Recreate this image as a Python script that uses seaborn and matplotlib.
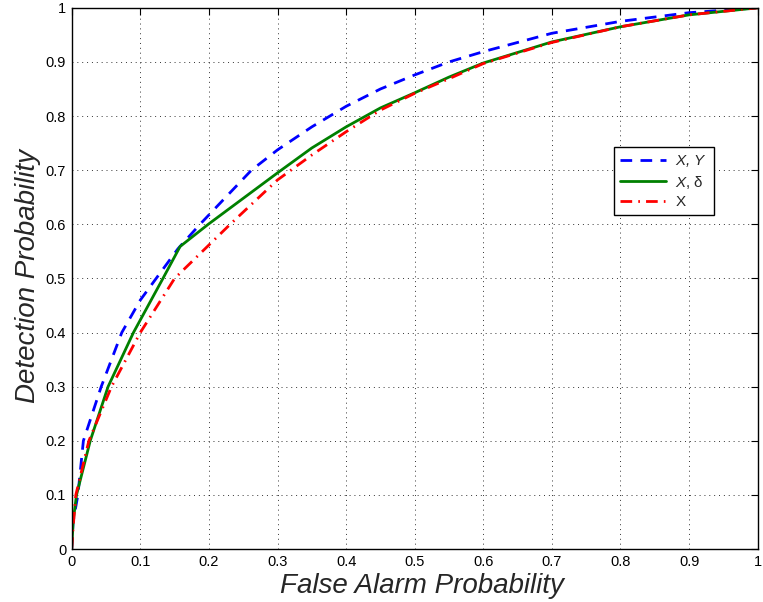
import pandas as pd
import matplotlib
matplotlib.use("Agg")
import matplotlib.pyplot as plt
import seaborn as sns
from matplotlib.ticker import FuncFormatter

# curve points (false alarm, detection)
pfa_xy = [0, 0.002, 0.009, 0.017, 0.043, 0.073, 0.1, 0.126, 0.155, 0.187,
          0.262, 0.3, 0.35, 0.4, 0.45, 0.5, 0.55, 0.6, 0.7, 0.8, 0.9, 1.0]
pd_xy = [0, 0.05, 0.1, 0.2, 0.3, 0.4, 0.46, 0.505, 0.555, 0.6,
         0.7, 0.7375, 0.78, 0.818, 0.85, 0.876, 0.90, 0.919, 0.953, 0.975, 0.991, 1.0]

pfa_xd = [0, 0.002, 0.007, 0.027, 0.053, 0.09, 0.133, 0.158, 0.199, 0.3,
          0.35, 0.4, 0.45, 0.5, 0.55, 0.6, 0.7, 0.8, 0.9, 1.0]
pd_xd = [0, 0.05, 0.1, 0.2, 0.3, 0.4, 0.5, 0.559, 0.6, 0.695,
         0.741, 0.78, 0.815, 0.843, 0.872, 0.898, 0.937, 0.965, 0.987, 1.0]

pfa_x = [0, 0.002, 0.006, 0.025, 0.058, 0.1, 0.15, 0.231, 0.3, 0.35,
         0.4, 0.45, 0.5, 0.55, 0.6, 0.7, 0.8, 0.9, 1.0]
pd_x = [0, 0.04, 0.1, 0.2, 0.3, 0.4, 0.5, 0.6, 0.682, 0.728,
        0.771, 0.811, 0.842, 0.869, 0.897, 0.936, 0.965, 0.987, 1.0]

labels = [r"$X$, $Y$", r"$X$, δ", "X"]
ticks = [0, 0.1, 0.2, 0.3, 0.4, 0.5, 0.6, 0.7, 0.8, 0.9, 1]

sns.set_style("white")
plt.rcParams["font.family"] = ["Liberation Sans", "DejaVu Sans"]
plt.rcParams["mathtext.fontset"] = "custom"
plt.rcParams["mathtext.it"] = "Liberation Sans:italic"
plt.rcParams["mathtext.rm"] = "Liberation Sans"

fig = plt.figure(figsize=(7.63, 6.02), dpi=100)
ax = fig.add_axes([0.094, 0.088, 0.899, 0.899])

sns.lineplot(x=pfa_xy, y=pd_xy, ax=ax, color="#0000ff", lw=2,
             linestyle=(0, (4.2, 3.0)), sort=False, estimator=None, label=labels[0])
sns.lineplot(x=pfa_xd, y=pd_xd, ax=ax, color="#008000", lw=2,
             linestyle="-", sort=False, estimator=None, label=labels[1])
sns.lineplot(x=pfa_x, y=pd_x, ax=ax, color="#ff0000", lw=2,
             linestyle=(0, (4.2, 2.2, 0.6, 2.2)), sort=False, estimator=None, label=labels[2])

ax.set_xlim(0, 1)
ax.set_ylim(0, 1)
ax.set_xticks(ticks)
ax.set_yticks(ticks)
fmt = FuncFormatter(lambda v, p: "%g" % v)
ax.xaxis.set_major_formatter(fmt)
ax.yaxis.set_major_formatter(fmt)
ax.tick_params(direction="in", length=5, width=0.8, top=True, right=True,
               labelsize=10.5, colors="black", pad=4)
ax.grid(True, linestyle=(0, (1, 4)), color="black", lw=0.7, alpha=0.8)
for s in ax.spines.values():
    s.set_visible(True)
    s.set_color("black")
    s.set_linewidth(1)

ax.set_xlabel("False Alarm Probability", fontsize=20, style="italic")
ax.set_ylabel("Detection Probability", fontsize=20, style="italic")
ax.xaxis.set_label_coords(0.51, -0.045)
ax.yaxis.set_label_coords(-0.045, 0.505)

leg = ax.legend(loc="upper left", bbox_to_anchor=(0.7905, 0.743), borderaxespad=0,
                fontsize=11, handlelength=3.0, handletextpad=0.6,
                fancybox=False, edgecolor="black", framealpha=1,
                borderpad=0.42, labelspacing=0.28)
leg.get_frame().set_linewidth(1)
leg.get_texts()[0].set_style("italic")

fig.savefig("out.png", dpi=100)
